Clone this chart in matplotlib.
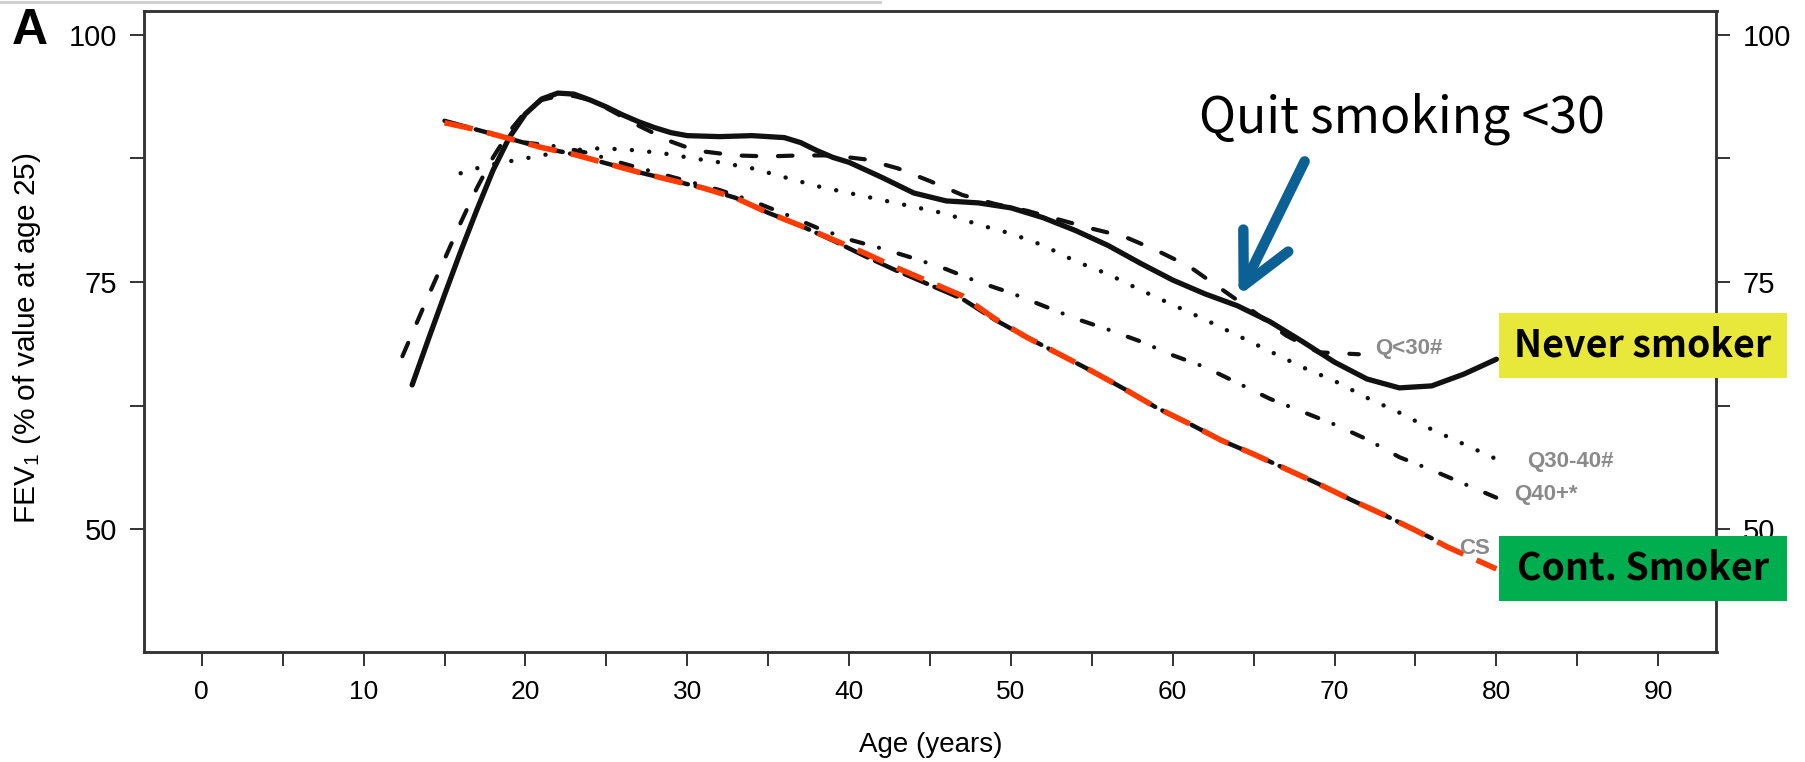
import matplotlib
matplotlib.use('Agg')
import matplotlib.pyplot as plt
from matplotlib.patches import Rectangle, FancyArrowPatch
from matplotlib.lines import Line2D

plt.rcParams['font.family'] = ['Liberation Sans', 'DejaVu Sans']
plt.rcParams['mathtext.fontset'] = 'custom'
plt.rcParams['mathtext.rm'] = 'Liberation Sans'
plt.rcParams['mathtext.it'] = 'Liberation Sans'

# Never smoker (solid)
age_ns = [13, 14, 15, 16, 17, 18, 19, 20, 21, 22, 23, 24, 25, 26, 27, 28, 29, 30, 32, 34,
          36, 37, 38, 39, 40, 42, 44, 46, 48, 50, 52, 54, 56, 58, 60, 62, 64, 66, 68, 70,
          72, 74, 76, 78, 80]
fev_ns = [64.6, 69.2, 73.7, 78.1, 82.3, 86.3, 89.6, 92.0, 93.5, 94.1, 94.0, 93.4, 92.7, 91.9,
          91.2, 90.6, 90.1, 89.8, 89.7, 89.8, 89.6, 89.1, 88.3, 87.6, 87.1, 85.6, 84.0, 83.2,
          83.0, 82.5, 81.5, 80.2, 78.7, 76.9, 75.2, 73.8, 72.6, 71.0, 69.0, 66.9, 65.2, 64.3,
          64.5, 65.7, 67.2]

# Quit < 30 (dashed)
age_q30 = [12.4, 14, 16, 17, 18, 19, 20, 21, 22, 23, 24, 25, 26, 27, 28, 29, 30, 31, 33, 35,
           37, 39, 41, 43, 45, 47, 49, 51, 53, 55, 57, 59, 61, 63, 65, 67, 69, 71.5]
fev_q30 = [67.5, 73.6, 81.0, 84.5, 87.6, 90.2, 92.2, 93.4, 93.8, 93.8, 93.4, 92.6, 91.7, 90.8,
           90.0, 89.2, 88.6, 88.2, 87.8, 87.7, 87.8, 87.8, 87.4, 86.5, 85.2, 83.8, 82.9, 82.2,
           81.3, 80.4, 79.6, 78.2, 76.6, 74.3, 72.0, 69.6, 67.9, 67.7]

# Quit 30-40 (dotted)
age_q3040 = [16, 17, 18, 19, 20, 21, 22, 23, 24, 25, 26, 27, 28, 29, 30, 32, 34, 36, 38, 40,
             42, 44, 46, 48, 50, 52, 54, 56, 58, 60, 62, 64, 66, 68, 70, 72, 74, 76, 78, 80]
fev_q3040 = [86.0, 86.5, 86.9, 87.2, 87.5, 87.8, 88.1, 88.3, 88.5, 88.5, 88.4, 88.3, 88.1, 87.9,
             87.6, 87.1, 86.5, 85.6, 84.7, 84.0, 83.3, 82.6, 81.9, 80.8, 79.9, 78.7, 77.1, 75.8,
             74.2, 72.7, 71.2, 69.6, 68.0, 66.4, 65.0, 63.3, 61.8, 60.1, 58.6, 57.1]

# Quit 40+ (dot-dash)
age_q40 = [20, 22, 24, 26, 28, 30, 32, 34, 36, 38, 40, 42, 44, 46, 48, 50, 52, 54, 56, 58,
           60, 62, 64, 66, 68, 70, 72, 74, 76, 78, 80]
fev_q40 = [89.1, 88.7, 88.0, 87.0, 86.1, 85.2, 84.3, 83.2, 81.9, 80.5, 79.3, 78.4, 77.4, 76.3,
           75.0, 73.9, 72.6, 71.3, 70.2, 69.0, 67.6, 66.4, 64.8, 63.2, 61.9, 60.6, 59.1, 57.3,
           56.0, 54.6, 53.2]

# Continuous smoker (black long dash, red overlay)
age_cs = [15, 17, 19, 21, 23, 25, 27, 29, 31, 33, 35, 37, 39, 41, 43, 45, 47, 49, 51, 53,
          55, 57, 59, 61, 63, 65, 67, 69, 71, 73, 75, 76]
fev_cs = [91.3, 90.4, 89.5, 88.6, 87.9, 87.0, 86.1, 85.3, 84.5, 83.5, 82.0, 80.7, 79.2, 77.6,
          76.1, 74.7, 73.3, 71.2, 69.4, 67.7, 66.0, 64.2, 62.3, 60.7, 59.0, 57.6, 56.1, 54.6,
          53.0, 51.5, 49.9, 49.1]
age_cs_red = [15, 17, 19, 21, 23, 25, 27, 29, 31, 33, 35, 37, 39, 41, 43, 45, 47, 49, 51, 53,
              55, 57, 59, 61, 63, 65, 67, 69, 71, 73, 75, 77, 80]
fev_cs_red = [91.1, 90.4, 89.5, 88.6, 87.9, 87.0, 86.1, 85.3, 84.5, 83.5, 82.0, 80.7, 79.3, 77.9,
              76.4, 75.0, 73.6, 71.3, 69.4, 67.7, 66.0, 64.2, 62.3, 60.7, 59.0, 57.6, 56.1, 54.6,
              53.0, 51.5, 49.9, 48.2, 46.0]

group_labels = ['Q<30#', 'Q30-40#', 'Q40+*', 'CS']
label_pos = [(72.5, 68.3), (81.9, 56.9), (81.1, 53.5), (77.7, 48.1)]

x_ticks = list(range(0, 91, 5))
x_labels = [str(t) if t % 10 == 0 else '' for t in x_ticks]
y_ticks = [50, 62.5, 75, 87.5, 100]
y_labels = ['50', '', '75', '', '100']

W, H = 1806, 762
fig = plt.figure(figsize=(W / 100, H / 100), dpi=100)
ax = fig.add_axes([143.5 / W, (H - 652) / H, 1573 / W, 641 / H])

ink = '#111111'
ax.plot(age_ns, fev_ns, color=ink, lw=3.8, solid_capstyle='round', solid_joinstyle='round')
ax.plot(age_q30, fev_q30, color=ink, lw=3.0, ls=(0, (3.5, 5.2)), dash_capstyle='round')
ax.plot(age_q3040, fev_q3040, color=ink, lw=3.2, ls=(0, (0.01, 3.9)), dash_capstyle='round')
ax.plot(age_q40, fev_q40, color=ink, lw=3.0, ls=(0, (2.9, 3.9, 0.01, 4.9)), dash_capstyle='round')
ax.plot(age_cs, fev_cs, color=ink, lw=3.2, ls=(0, (5.5, 1.8)), dash_capstyle='round')
ax.plot(age_cs_red, fev_cs_red, color='#ff3b00', lw=4.0, ls=(0, (5.2, 2.6)), zorder=3)

for txt, (x, y) in zip(group_labels, label_pos):
    ax.text(x, y, txt, color='#8a8a8a', fontsize=16, fontweight='bold', ha='left', va='center')

ax.set_xlim(-3.6, 93.6)
ax.set_ylim(37.6, 102.4)
ax.set_xticks(x_ticks)
ax.set_xticklabels(x_labels)
ax.set_yticks(y_ticks)
ax.set_yticklabels(y_labels)
ax.tick_params(axis='x', length=10, width=1.4, color='#333333', labelsize=19, pad=10)
ax.tick_params(axis='y', length=10, width=1.4, color='#333333', labelsize=21, pad=9)
for sp in ax.spines.values():
    sp.set_color('#333333')
    sp.set_linewidth(1.8)

# right axis repeats the y scale
ax2 = ax.twinx()
ax2.set_ylim(ax.get_ylim())
ax2.set_yticks(y_ticks)
ax2.set_yticklabels(y_labels)
ax2.tick_params(axis='y', length=10, width=1.4, color='#333333', labelsize=21, pad=9)
for sp in ax2.spines.values():
    sp.set_color('#333333')
    sp.set_linewidth(1.8)

fig.text(931 / W, 1 - 745 / H, 'Age (years)', fontsize=20, ha='center', va='center')
fig.text(27 / W, 1 - 338 / H, 'FEV$_1$ (% of value at age 25)', fontsize=21.5,
         rotation=90, ha='center', va='center')
fig.text(30 / W, 1 - 31 / H, 'A', fontsize=36, fontweight='bold', ha='center', va='center')

# thin grey rule at the very top
fig.add_artist(Line2D([0, 880 / W], [1 - 1.5 / H] * 2, color='#cfcfcf', lw=2.2,
                      transform=fig.transFigure))

# overlay: arrow and caption
overlay_font = ['Noto Sans CJK KR', 'DejaVu Sans']
arrow = FancyArrowPatch((68.15, 87.2), (64.07, 73.6),
                        arrowstyle='->,head_length=36,head_width=18', mutation_scale=1,
                        lw=7.5, color='#0b6194', capstyle='round', joinstyle='round',
                        shrinkA=0, shrinkB=0, clip_on=False, zorder=6)
ax.add_patch(arrow)
fig.text(1402 / W, 1 - 119 / H, 'Quit smoking <30', fontsize=36, family=overlay_font,
         ha='center', va='center', color='black')

# coloured boxes
for (y0, y1), col, txt in [((313, 378), '#e8e83a', 'Never smoker'),
                           ((536, 601), '#00ad4f', 'Cont. Smoker')]:
    fig.add_artist(Rectangle((1499 / W, 1 - y1 / H), (1787 - 1499) / W, (y1 - y0) / H,
                             facecolor=col, edgecolor='none', transform=fig.transFigure, zorder=10))
    fig.text(1643 / W, 1 - (y0 + y1) / 2 / H, txt, fontsize=27, fontweight='bold',
             family=overlay_font, ha='center', va='center', zorder=11)

fig.savefig('out.png', dpi=100)
